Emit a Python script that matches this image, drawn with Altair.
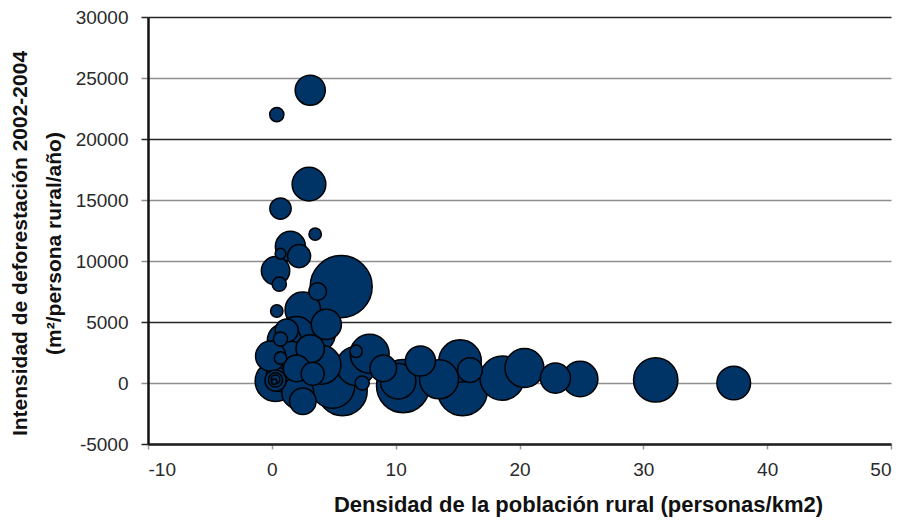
import altair as alt
import pandas as pd

# Densidad de la población rural (personas/km2)
densidad = [3.1, 0.4, 3.0, 0.7, 3.5, 1.5, 0.7, 2.2, 0.3, 0.6,
            5.6, 3.7, 2.5, 0.4, 4.4, 3.3, 1.0, 0.7, 0.7, 0.3,
            0.3, 0.3, 0.3, 0.2, 3.1, 3.3, 2.1, 6.8, 6.8, 7.9,
            5.7, 4.9, 10.6, 10.2, 12.0, 15.2, 15.4, 16.0, 18.6, 20.4,
            22.9, 24.9, 31.0, 37.3, 1.5, 2.0, 7.3, -0.1, 1.0, 4.0,
            13.5, 9.0, 2.5, 2.0, 1.2]
# Intensidad de deforestación 2002-2004 (m2/persona rural/año)
intensidad = [24000, 22000, 16300, 14300, 12200, 11200, 10600, 10400, 9200, 8100,
              7900, 7500, 6000, 5900, 4800, 4200, 3500, 3600, 2050, 150,
              200, 250, 300, 100, 2800, 750, -800, 1400, 2600, 2400,
              -650, -250, -250, 150, 1800, 1800, -650, 1060, 400, 1230,
              400, 330, 250, 0, 2200, 1200, 0, 2200, 700, 1500,
              300, 1200, -1500, 4000, 4300]
# Tamaño relativo de la burbuja
tamano = [289, 64, 361, 144, 49, 289, 36, 169, 256, 64,
          1225, 100, 400, 49, 289, 676, 361, 64, 49, 529,
          144, 64, 25, 9, 256, 169, 324, 484, 49, 484,
          784, 625, 900, 400, 289, 576, 784, 196, 625, 484,
          289, 400, 625, 361, 289, 225, 64, 289, 400, 484,
          484, 225, 225, 400, 169]

df = pd.DataFrame({"densidad": densidad, "intensidad": intensidad, "tamano": tamano})

dark_test = "indexof([30000, 20000, 5000, -5000], datum.value) >= 0"
grid_color = {"condition": {"test": dark_test, "value": "#262626"}, "value": "#8f8f8f"}

font = "Liberation Sans"

chart = alt.Chart(df).mark_circle(
    color="#003366", opacity=1, stroke="#000000", strokeWidth=1.5
).encode(
    x=alt.X(
        "densidad:Q",
        scale=alt.Scale(domain=[-10, 50], nice=False, zero=False),
        axis=alt.Axis(
            values=[-10, 0, 10, 20, 30, 40, 50],
            labelExpr="'' + datum.value",
            labelFont=font, labelFontSize=19, labelColor="#2a2a2a", labelPadding=11,
            tickSize=5, tickColor="#9a9a9a", tickWidth=1.5,
            domainColor="#222222", domainWidth=2.5,
            grid=False,
            title="Densidad de la población rural (personas/km2)",
            titleFont=font, titleFontSize=22, titleFontWeight="bold", titleColor="#111111",
            titleX=430, titleY=60, titleAlign="center", titleBaseline="middle",
        ),
    ),
    y=alt.Y(
        "intensidad:Q",
        scale=alt.Scale(domain=[-5000, 30000], nice=False, zero=False),
        axis=alt.Axis(
            values=[-5000, 0, 5000, 10000, 15000, 20000, 25000, 30000],
            labelExpr="'' + datum.value",
            labelFont=font, labelFontSize=19, labelColor="#2a2a2a", labelPadding=13,
            tickSize=7, tickColor=grid_color, tickWidth=1.5,
            domainColor="#111111", domainWidth=2.5,
            grid=True, gridColor=grid_color, gridWidth=1.6,
            title=["Intensidad de deforestación 2002-2004", "(m²/persona rural/año)"],
            titleFont=font, titleFontSize=21, titleFontWeight="bold", titleColor="#111111",
            titleAngle=270, titleX=-128, titleY=226, titleAlign="center",
            titleBaseline="middle", titleLineHeight=34,
        ),
    ),
    size=alt.Size("tamano:Q", scale=alt.Scale(type="linear", domain=[0, 1300], range=[0, 4084]), legend=None),
    order=alt.Order("tamano:Q", sort="descending"),
).properties(
    width=743,
    height=427,
    autosize=alt.AutoSizeParams(type="none"),
    padding={"left": 140, "top": 9, "right": 3, "bottom": 80},
).configure_view(stroke=None)

chart.save("out.html", embed_options={"renderer": "svg", "actions": False})
